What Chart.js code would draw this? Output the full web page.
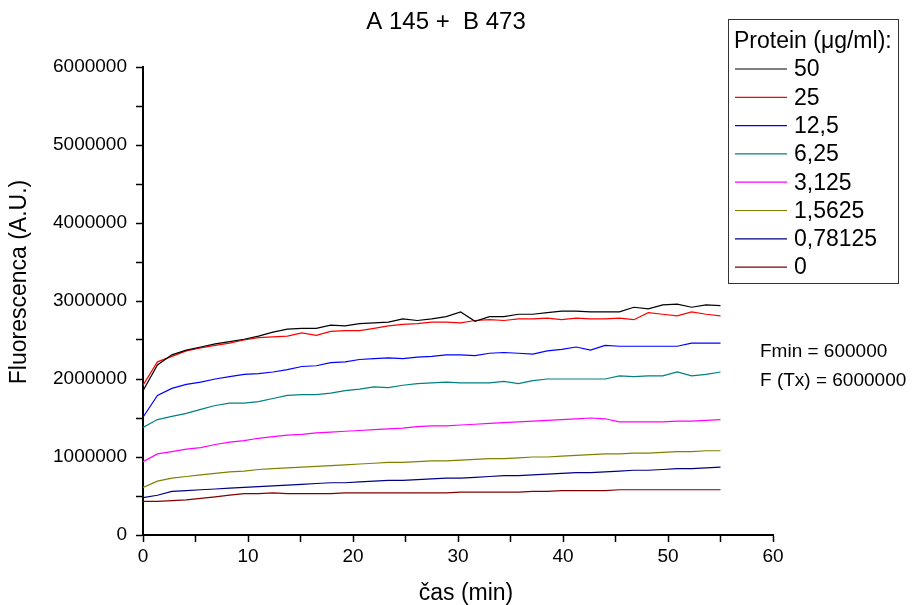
<!DOCTYPE html>
<html>
<head>
<meta charset="utf-8">
<script src="https://cdn.jsdelivr.net/npm/chart.js@4.4.1/dist/chart.umd.min.js"></script>
<style>
    html, body { margin: 0; padding: 0; background: #fff; }
    #wrap { width: 915px; height: 605px; }
</style>
</head>
<body>
<div id="wrap"><canvas id="fluor_chart" width="915" height="605"></canvas></div>
<script>
// time points (min)
const times = [0, 1.375, 2.75, 4.125, 5.5, 6.875, 8.25, 9.625, 11, 12.375, 13.75, 15.125, 16.5, 17.875, 19.25, 20.625, 22, 23.375, 24.75, 26.125, 27.5, 28.875, 30.25, 31.625, 33, 34.375, 35.75, 37.125, 38.5, 39.875, 41.25, 42.625, 44, 45.375, 46.75, 48.125, 49.5, 50.875, 52.25, 53.625, 55];

// fluorescence per protein concentration (A.U.)
const p50 = [1850000, 2180000, 2310000, 2370000, 2410000, 2450000, 2480000, 2510000, 2550000, 2600000, 2640000, 2650000, 2650000, 2690000, 2680000, 2710000, 2720000, 2730000, 2770000, 2750000, 2770000, 2800000, 2860000, 2740000, 2800000, 2800000, 2830000, 2830000, 2850000, 2870000, 2870000, 2860000, 2860000, 2860000, 2920000, 2900000, 2950000, 2960000, 2920000, 2950000, 2940000];
const p25 = [1920000, 2220000, 2290000, 2360000, 2400000, 2430000, 2460000, 2500000, 2530000, 2540000, 2550000, 2590000, 2560000, 2610000, 2620000, 2620000, 2650000, 2680000, 2700000, 2710000, 2730000, 2730000, 2720000, 2750000, 2760000, 2750000, 2770000, 2770000, 2780000, 2760000, 2780000, 2770000, 2770000, 2780000, 2760000, 2850000, 2830000, 2810000, 2860000, 2830000, 2810000];
const p12_5 = [1510000, 1790000, 1880000, 1930000, 1960000, 2000000, 2030000, 2060000, 2070000, 2090000, 2120000, 2160000, 2170000, 2210000, 2220000, 2250000, 2260000, 2270000, 2260000, 2280000, 2290000, 2310000, 2310000, 2300000, 2330000, 2340000, 2330000, 2320000, 2360000, 2380000, 2410000, 2370000, 2430000, 2420000, 2420000, 2420000, 2420000, 2420000, 2460000, 2460000, 2460000];
const p6_25 = [1380000, 1480000, 1520000, 1560000, 1610000, 1660000, 1690000, 1690000, 1710000, 1750000, 1790000, 1800000, 1800000, 1820000, 1850000, 1870000, 1900000, 1890000, 1920000, 1940000, 1950000, 1960000, 1950000, 1950000, 1950000, 1970000, 1940000, 1980000, 2000000, 2000000, 2000000, 2000000, 2000000, 2040000, 2030000, 2040000, 2040000, 2090000, 2040000, 2060000, 2090000];
const p3_125 = [940000, 1040000, 1070000, 1100000, 1120000, 1160000, 1190000, 1210000, 1240000, 1260000, 1280000, 1290000, 1310000, 1320000, 1330000, 1340000, 1350000, 1360000, 1370000, 1390000, 1400000, 1400000, 1410000, 1420000, 1430000, 1440000, 1450000, 1460000, 1470000, 1480000, 1490000, 1500000, 1490000, 1450000, 1450000, 1450000, 1450000, 1460000, 1460000, 1470000, 1480000];
const p1_5625 = [610000, 690000, 730000, 750000, 770000, 790000, 810000, 820000, 840000, 850000, 860000, 870000, 880000, 890000, 900000, 910000, 920000, 930000, 930000, 940000, 950000, 950000, 960000, 970000, 980000, 980000, 990000, 1000000, 1000000, 1010000, 1020000, 1030000, 1040000, 1040000, 1050000, 1050000, 1060000, 1070000, 1070000, 1080000, 1080000];
const p0_78125 = [480000, 510000, 560000, 570000, 580000, 590000, 600000, 610000, 620000, 630000, 640000, 650000, 660000, 670000, 670000, 680000, 690000, 700000, 700000, 710000, 720000, 730000, 730000, 740000, 750000, 760000, 760000, 770000, 780000, 790000, 800000, 800000, 810000, 820000, 830000, 830000, 840000, 850000, 850000, 860000, 870000];
const p0 = [430000, 430000, 440000, 450000, 470000, 490000, 510000, 530000, 530000, 540000, 530000, 530000, 530000, 530000, 540000, 540000, 540000, 540000, 540000, 540000, 540000, 540000, 550000, 550000, 550000, 550000, 550000, 560000, 560000, 570000, 570000, 570000, 570000, 580000, 580000, 580000, 580000, 580000, 580000, 580000, 580000];

const seriesLabels = ['50', '25', '12,5', '6,25', '3,125', '1,5625', '0,78125', '0'];
const seriesValues = [p50, p25, p12_5, p6_25, p3_125, p1_5625, p0_78125, p0];
const seriesColors = ['#000000', '#ff0000', '#0000ff', '#008080', '#ff00ff', '#808000', '#000080', '#800000'];

const FONT = '"Liberation Sans", Arial, sans-serif';

const datasets = seriesLabels.map((label, i) => ({
    label: label,
    data: times.map((t, j) => ({ x: t, y: seriesValues[i][j] })),
    borderColor: seriesColors[i],
    backgroundColor: seriesColors[i],
    borderWidth: 1.2,
    pointRadius: 0,
    tension: 0,
    fill: false
}));

// title, axis titles, legend box and notes drawn on top
const extras = {
    id: 'extras',
    afterDraw(chart) {
        const c = chart.ctx;
        c.save();
        c.fillStyle = '#000';
        c.textBaseline = 'middle';

        c.font = '24px ' + FONT;
        c.textAlign = 'center';
        c.fillText('A 145 +  B 473', 446, 22);

        c.font = '23px ' + FONT;
        c.fillText('\u010das (min)', 466, 594);
        c.save();
        c.translate(20, 282);
        c.rotate(-Math.PI / 2);
        c.fillText('Fluorescenca (A.U.)', 0, 0);
        c.restore();

        // legend
        c.font = '23px ' + FONT;
        c.strokeStyle = '#333';
        c.lineWidth = 1;
        c.strokeRect(728.5, 19.5, 170, 264);
        c.textAlign = 'left';
        c.fillText('Protein (\u03bcg/ml):', 734, 42);
        chart.data.datasets.forEach((ds, i) => {
            const y = 69 + i * 28.3;
            c.strokeStyle = ds.borderColor;
            c.lineWidth = 1.2;
            c.beginPath();
            c.moveTo(735, y);
            c.lineTo(787, y);
            c.stroke();
            c.fillText(ds.label, 794, y + 1);
        });

        c.font = '19px ' + FONT;
        c.fillText('Fmin = 600000', 760, 352);
        c.fillText('F (Tx) = 6000000', 760, 381);
        c.restore();
    }
};

const ctx = document.getElementById('fluor_chart');

new Chart(ctx, {
    type: 'line',
    data: { datasets: datasets },
    options: {
        responsive: false,
        animation: false,
        layout: {
            padding: { left: 0, right: 142, top: 67, bottom: 0 }
        },
        plugins: {
            legend: { display: false },
            title: { display: false },
            tooltip: { enabled: false }
        },
        scales: {
            x: {
                type: 'linear',
                min: 0,
                max: 60,
                afterFit: (scale) => { scale.height = 70; },
                border: { color: '#000', width: 2 },
                grid: { drawOnChartArea: false, tickLength: 7, tickColor: '#000', tickWidth: 1.5 },
                ticks: {
                    stepSize: 5,
                    padding: 3,
                    color: '#000',
                    font: { family: FONT, size: 19 },
                    maxRotation: 0,
                    autoSkip: false,
                    callback: (v) => (v % 10 === 0 ? String(v) : '')
                }
            },
            y: {
                min: 0,
                max: 6000000,
                afterFit: (scale) => { scale.width = 143; },
                border: { color: '#000', width: 2 },
                grid: { drawOnChartArea: false, tickLength: 7, tickColor: '#000', tickWidth: 1.5 },
                ticks: {
                    stepSize: 500000,
                    padding: 9,
                    color: '#000',
                    font: { family: FONT, size: 19 },
                    autoSkip: false,
                    callback: (v) => (v % 1000000 === 0 ? String(v) : '')
                }
            }
        }
    },
    plugins: [extras]
});
</script>
</body>
</html>
